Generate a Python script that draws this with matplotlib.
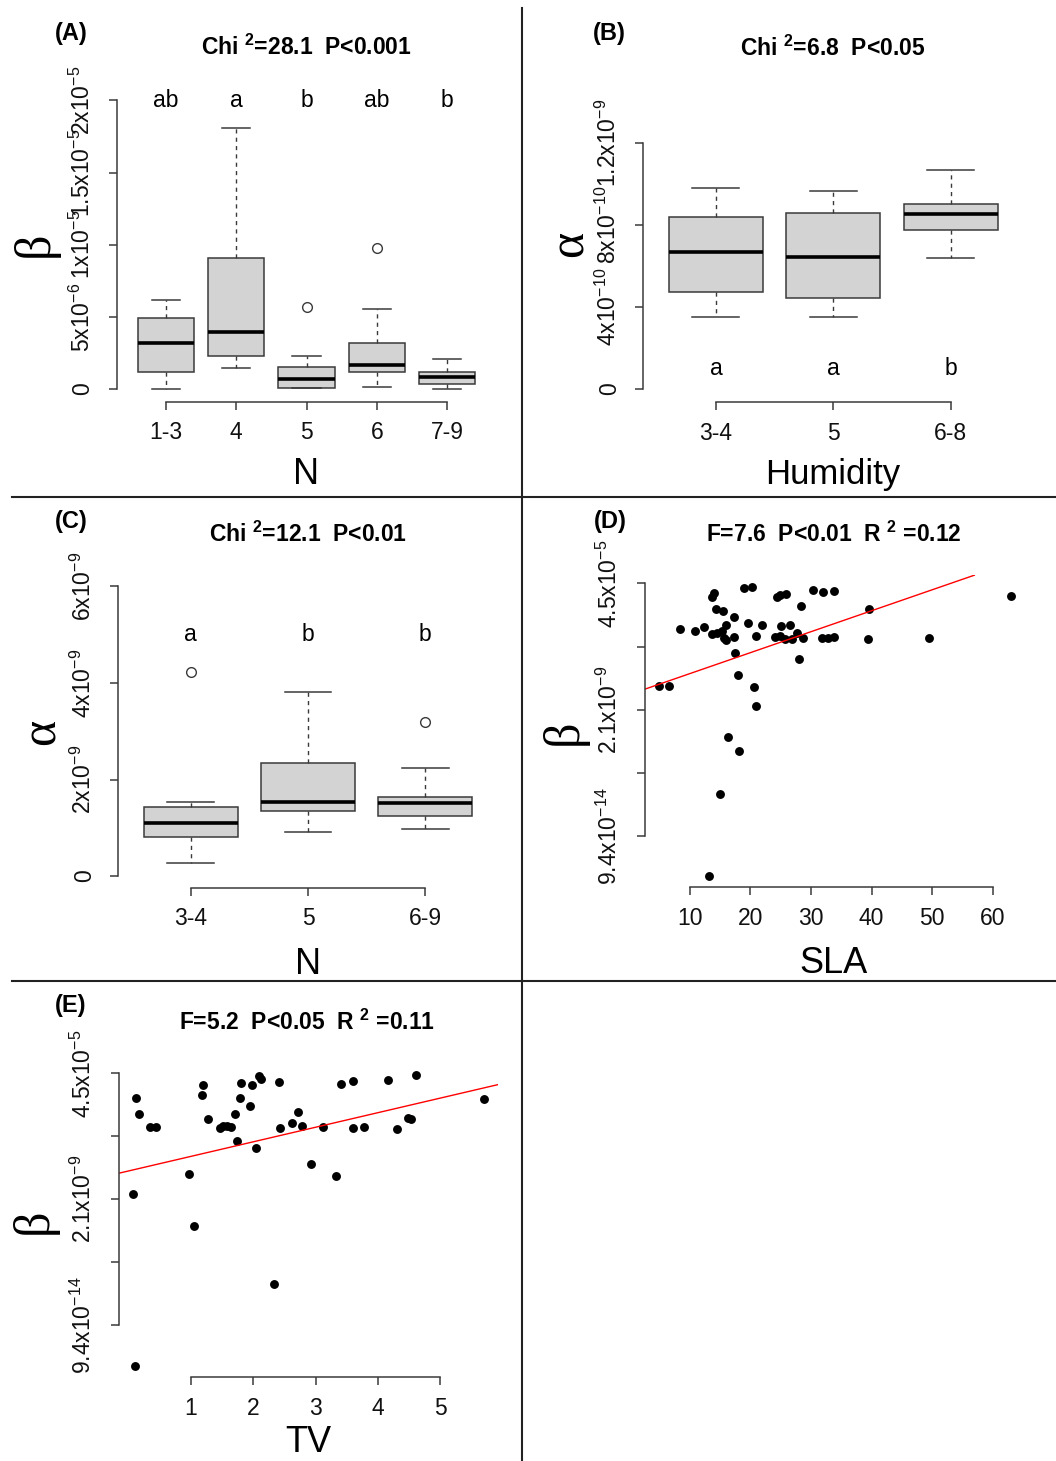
import numpy as np
import matplotlib
matplotlib.use('Agg')
import matplotlib.pyplot as plt
from matplotlib.lines import Line2D

plt.rcParams['font.family'] = ['Liberation Sans', 'DejaVu Sans']
plt.rcParams['mathtext.fontset'] = 'custom'
plt.rcParams['mathtext.rm'] = 'Liberation Sans'
plt.rcParams['mathtext.it'] = 'Liberation Sans:italic'
plt.rcParams['mathtext.bf'] = 'Liberation Sans:bold'

# ---- panel A: beta by N class (box statistics)
a_groups = ['1-3', '4', '5', '6', '7-9']
a_whislo = [0.0, 1.45e-6, 0.05e-6, 0.14e-6, 0.0]
a_q1 = [1.18e-6, 2.29e-6, 0.07e-6, 1.18e-6, 0.35e-6]
a_med = [3.19e-6, 3.95e-6, 0.69e-6, 1.66e-6, 0.83e-6]
a_q3 = [4.92e-6, 9.07e-6, 1.52e-6, 3.19e-6, 1.18e-6]
a_whishi = [6.16e-6, 18.1e-6, 2.29e-6, 5.54e-6, 2.08e-6]
a_fliers = [[], [], [5.68e-6], [9.76e-6], []]
a_letters = ['ab', 'a', 'b', 'ab', 'b']

# ---- panel B: alpha by humidity class
b_groups = ['3-4', '5', '6-8']
b_whislo = [3.51e-10, 3.51e-10, 6.41e-10]
b_q1 = [4.73e-10, 4.45e-10, 7.77e-10]
b_med = [6.70e-10, 6.45e-10, 8.54e-10]
b_q3 = [8.39e-10, 8.60e-10, 9.04e-10]
b_whishi = [9.82e-10, 9.67e-10, 10.70e-10]
b_fliers = [[], [], []]
b_letters = ['a', 'a', 'b']

# ---- panel C: alpha by N class
c_groups = ['3-4', '5', '6-9']
c_whislo = [0.28e-9, 0.92e-9, 0.98e-9]
c_q1 = [0.81e-9, 1.35e-9, 1.24e-9]
c_med = [1.10e-9, 1.54e-9, 1.51e-9]
c_q3 = [1.42e-9, 2.35e-9, 1.64e-9]
c_whishi = [1.54e-9, 3.82e-9, 2.24e-9]
c_fliers = [[4.23e-9], [], [3.20e-9]]
c_letters = ['a', 'b', 'b']

# ---- panel D: ln(beta) vs SLA
d_sla = [4.89, 6.54, 8.47, 10.94, 12.31, 13.69, 14.07, 14.40, 15.50, 13.69,
         14.51, 15.34, 16.05, 15.60, 16.05, 17.25, 17.25, 17.53, 17.97, 19.01,
         20.28, 19.56, 20.94, 21.98, 20.54, 20.94, 24.40, 24.94, 25.88, 28.40,
         25.06, 26.59, 24.12, 24.94, 25.77, 26.87, 27.79, 28.78, 28.12, 30.33,
         32.08, 31.81, 32.90, 33.89, 33.89, 39.65, 39.39, 49.54, 62.95, 16.26,
         18.07, 15.06, 13.25]
d_lnbeta = [-18.10, -18.10, -13.64, -13.75, -13.46, -11.06, -10.79, -12.06, -12.19, -14.03,
            -13.91, -13.75, -13.30, -14.35, -14.49, -12.64, -14.22, -15.49, -17.28, -10.35,
            -10.27, -13.16, -14.17, -13.30, -18.18, -19.68, -11.11, -10.93, -10.85, -11.80,
            -13.35, -13.30, -14.27, -14.17, -14.43, -14.43, -13.96, -14.30, -16.01, -10.53,
            -10.69, -14.35, -14.35, -10.63, -14.27, -12.06, -14.43, -14.33, -10.98, -22.18,
            -23.29, -26.69, -33.13]
d_fit = (-18.81, 0.166)   # intercept, slope

# ---- panel E: ln(beta) vs TV
e_tv = [0.117, 0.165, 0.342, 0.433, 0.064, 0.963, 1.197, 1.181, 1.273, 1.461,
        1.518, 1.573, 1.637, 1.706, 1.743, 1.787, 1.807, 1.947, 1.984, 2.091,
        2.119, 2.039, 2.417, 2.429, 2.616, 2.722, 2.777, 2.926, 3.114, 3.323,
        3.413, 3.605, 3.605, 3.782, 4.157, 4.302, 4.478, 4.531, 4.616, 5.708,
        1.048, 2.332, 0.101]
e_lnbeta = [-11.98, -13.21, -14.26, -14.24, -19.60, -18.02, -10.95, -11.72, -13.65, -14.37,
            -14.21, -14.21, -14.24, -13.23, -15.40, -11.98, -10.77, -12.57, -10.90, -10.21,
            -10.45, -15.95, -10.69, -14.34, -13.92, -13.10, -14.18, -17.20, -14.29, -18.13,
            -10.83, -10.61, -14.37, -14.29, -10.53, -14.42, -13.57, -13.65, -10.16, -12.06,
            -22.14, -26.70, -33.21]
e_fit = (-17.75, 1.156)

ln_ticks = [-30, -25, -20, -15, -10]
ln_labels = ['9.4x10$^{-14}$', '', '2.1x10$^{-9}$', '', '4.5x10$^{-5}$']

W, H = 1056, 1461
fig = plt.figure(figsize=(W / 100, H / 100), dpi=100)
EDGE = '#3a3a3a'
TICK_FS = 16.5
TITLE_FS = 16.5
PANEL_FS = 17


def axes_px(left, top, right, bottom):
    return fig.add_axes([left / W, 1 - bottom / H, (right - left) / W, (bottom - top) / H])


def ftext(x, y, s, **kw):
    fig.text(x / W, 1 - y / H, s, **kw)


def rlim(v):
    lo, hi = min(v), max(v)
    r = hi - lo
    return lo - 0.04 * r, hi + 0.04 * r


def style(ax, xt, yt, ylabels):
    ax.set_facecolor('none')
    ax.spines[['top', 'right']].set_visible(False)
    for s in ['left', 'bottom']:
        ax.spines[s].set_color(EDGE)
        ax.spines[s].set_linewidth(1.1)
    ax.spines['left'].set_bounds(yt[0], yt[-1])
    ax.spines['bottom'].set_bounds(xt[0], xt[-1])
    ax.set_yticks(yt, ylabels)
    ax.tick_params(length=6, width=1.1, color=EDGE, labelsize=TICK_FS, labelcolor='#111111')
    ax.tick_params(axis='x', pad=8)
    ax.tick_params(axis='y', pad=10, labelrotation=90)
    for lb in ax.get_yticklabels():
        lb.set_va('center')


def box_panel(ax, groups, lo, q1, med, q3, hi, fliers):
    stats = [dict(whislo=a, q1=b, med=c, q3=d, whishi=e, fliers=f)
             for a, b, c, d, e, f in zip(lo, q1, med, q3, hi, fliers)]
    pos = np.arange(1, len(groups) + 1)
    ax.bxp(stats, positions=pos, widths=0.8, capwidths=0.4, patch_artist=True,
           boxprops=dict(facecolor='#d3d3d3', edgecolor=EDGE, linewidth=1.1),
           medianprops=dict(color='black', linewidth=2.6, solid_capstyle='butt'),
           whiskerprops=dict(color=EDGE, linewidth=1, linestyle=(0, (3, 3))),
           capprops=dict(color=EDGE, linewidth=1.1),
           flierprops=dict(marker='o', markerfacecolor='none', markeredgecolor=EDGE,
                           markersize=7, markeredgewidth=1))
    ax.set_xticks(pos, groups)
    ext = 0.04 * len(groups)
    ax.set_xlim(0.5 - ext, len(groups) + 0.5 + ext)
    return pos


greek = ['Liberation Serif', 'DejaVu Serif']

# ---------------- (A)
ax = axes_px(116.8, 86, 496.2, 402)
pos = box_panel(ax, a_groups, a_whislo, a_q1, a_med, a_q3, a_whishi, a_fliers)
ax.set_ylim(-0.9e-6, 21.0e-6)
style(ax, pos, [0, 5e-6, 1e-5, 1.5e-5, 2e-5],
      ['0', '5x10$^{-6}$', '1x10$^{-5}$', '1.5x10$^{-5}$', '2x10$^{-5}$'])
for p, t in zip(pos, a_letters):
    ax.text(p, 2e-5, t, ha='center', va='center', fontsize=TICK_FS)
ftext(71.5, 40, '(A)', fontsize=PANEL_FS, fontweight='bold', ha='center', va='baseline')
ftext(306, 55, 'Chi $^{\\mathbf{2}}$=28.1  P<0.001', fontsize=TITLE_FS, fontweight='bold', ha='center', va='baseline')
ftext(35, 244, 'β', fontsize=36, family=greek, rotation=90, ha='center', va='center')
ftext(306, 484, 'N', fontsize=26, ha='center', va='baseline')

# ---------------- (B)
ax = axes_px(643.1, 47.9, 1023.6, 402.1)
pos = box_panel(ax, b_groups, b_whislo, b_q1, b_med, b_q3, b_whishi, b_fliers)
ax.set_ylim(-0.064e-9, 1.664e-9)
style(ax, pos, [0, 4e-10, 8e-10, 1.2e-9],
      ['0', '4x10$^{-10}$', '8x10$^{-10}$', '1.2x10$^{-9}$'])
for p, t in zip(pos, b_letters):
    ax.text(p, 1e-10, t, ha='center', va='center', fontsize=TICK_FS)
ftext(609, 40, '(B)', fontsize=PANEL_FS, fontweight='bold', ha='center', va='baseline')
ftext(833, 56, 'Chi $^{\\mathbf{2}}$=6.8  P<0.05', fontsize=TITLE_FS, fontweight='bold', ha='center', va='baseline')
ftext(570, 244, 'α', fontsize=36, family=greek, rotation=90, ha='center', va='center')
ftext(833, 484, 'Humidity', fontsize=25, ha='center', va='baseline')

# ---------------- (C)
ax = axes_px(118.0, 574.9, 498.0, 887.6)
pos = box_panel(ax, c_groups, c_whislo, c_q1, c_med, c_q3, c_whishi, c_fliers)
ax.set_ylim(-0.24e-9, 6.24e-9)
style(ax, pos, [0, 2e-9, 4e-9, 6e-9],
      ['0', '2x10$^{-9}$', '4x10$^{-9}$', '6x10$^{-9}$'])
for p, t in zip(pos, c_letters):
    ax.text(p, 5e-9, t, ha='center', va='center', fontsize=TICK_FS)
ftext(71, 528, '(C)', fontsize=PANEL_FS, fontweight='bold', ha='center', va='baseline')
ftext(308, 541.7, 'Chi $^{\\mathbf{2}}$=12.1  P<0.01', fontsize=TITLE_FS, fontweight='bold', ha='center', va='baseline')
ftext(42, 732, 'α', fontsize=36, family=greek, rotation=90, ha='center', va='center')
ftext(308, 974, 'N', fontsize=26, ha='center', va='baseline')

# ---------------- (D)
ax = axes_px(644.5, 575.2, 1024.8, 887.2)
ax.plot(d_sla, d_lnbeta, 'o', color='black', ms=6.4, mew=0)
ax.axline((0, d_fit[0]), slope=d_fit[1], color='red', lw=1)
ax.set_xlim(rlim(d_sla))
ax.set_ylim(rlim(d_lnbeta))
xt = [10, 20, 30, 40, 50, 60]
ax.set_xticks(xt)
style(ax, xt, ln_ticks, ln_labels)
ftext(610, 528, '(D)', fontsize=PANEL_FS, fontweight='bold', ha='center', va='baseline')
ftext(834, 541.7, 'F=7.6  P<0.01  R $^{\\mathbf{2}}$ =0.12', fontsize=TITLE_FS, fontweight='bold', ha='center', va='baseline')
ftext(564.5, 732, 'β', fontsize=36, family=greek, rotation=90, ha='center', va='center')
ftext(834, 973, 'SLA', fontsize=26, ha='center', va='baseline')

# ---------------- (E)
ax = axes_px(118.6, 1063.7, 498.4, 1377.3)
ax.plot(e_tv, e_lnbeta, 'o', color='black', ms=6.4, mew=0)
ax.axline((0, e_fit[0]), slope=e_fit[1], color='red', lw=1)
ax.set_xlim(rlim(e_tv))
ax.set_ylim(rlim(e_lnbeta))
xt = [1, 2, 3, 4, 5]
ax.set_xticks(xt)
style(ax, xt, ln_ticks, ln_labels)
ftext(70.5, 1011.7, '(E)', fontsize=PANEL_FS, fontweight='bold', ha='center', va='baseline')
ftext(307, 1030, 'F=5.2  P<0.05  R $^{\\mathbf{2}}$ =0.11', fontsize=TITLE_FS, fontweight='bold', ha='center', va='baseline')
ftext(34, 1221, 'β', fontsize=36, family=greek, rotation=90, ha='center', va='center')
ftext(308, 1460, 'TV', fontsize=26, ha='center', va='bottom')

# ---------------- panel dividers
for xs, ys in [([522, 522], [8, 1461]), ([12, 1056], [497, 497]), ([12, 1056], [981, 981])]:
    fig.add_artist(Line2D([x / W for x in xs], [1 - y / H for y in ys], color='#222222', lw=1.5))

fig.savefig('out.png', dpi=100)
